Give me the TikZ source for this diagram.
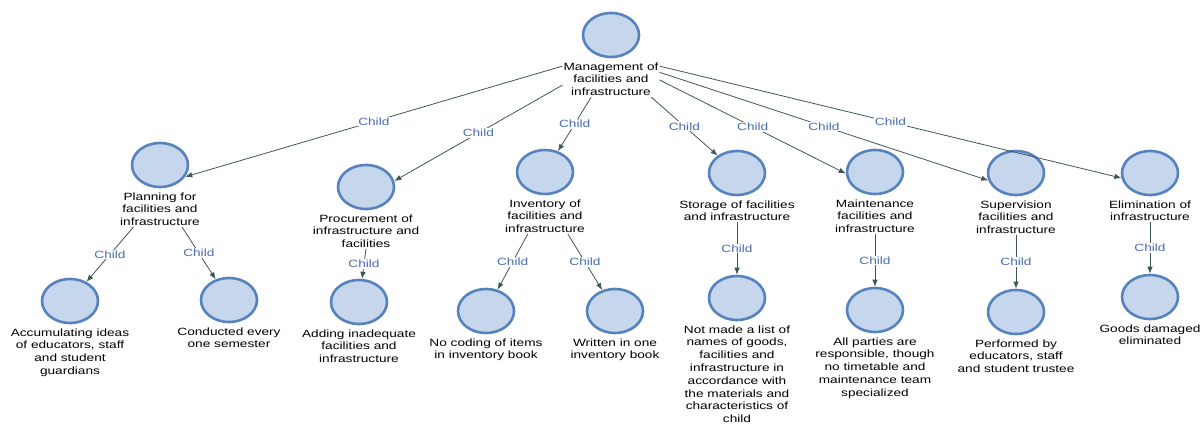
\documentclass[tikz,border=0pt]{standalone}
\usepackage{fontspec}
\setmainfont{Liberation Sans}[FakeStretch=1.3]
\usetikzlibrary{shapes.geometric,arrows.meta}
\definecolor{ellFill}{HTML}{C6D6EC}
\definecolor{ellBorder}{HTML}{5683BD}
\definecolor{edgeCol}{HTML}{3F5656}
\definecolor{childCol}{HTML}{4A6DB0}
\newcommand\lblfont{\fontsize{10.5}{12.8}\selectfont}
\tikzset{
  ell/.style={ellipse, draw=ellBorder, fill=ellFill, line width=2.6pt, minimum width=56pt, minimum height=44pt, inner sep=0pt},
  lbl/.style={align=center, font=\lblfont, inner sep=1pt, text=black, anchor=north},
  edge/.style={draw=edgeCol, line width=0.8pt, -{Latex[length=7pt,width=5.5pt]}},
  child/.style={font=\lblfont, text=childCol, fill=white, inner sep=1pt, pos=0.5}
}
\begin{document}
\begin{tikzpicture}[x=1pt,y=-1pt]
\useasboundingbox (0,0) rectangle (1202,423);
% root
\node[ell] (r) at (611,35) {};
\node[lbl] (rl) at ([yshift=-3pt]r.south) {Management of\\facilities and\\infrastructure};
% level 1
\node[ell] (a) at (160,165) {};
\node[lbl] (al) at ([yshift=-3pt]a.south) {Planning for\\facilities and\\infrastructure};
\node[ell] (b) at (366,187) {};
\node[lbl] (bl) at ([yshift=-3pt]b.south) {Procurement of\\infrastructure and\\facilities};
\node[ell] (c) at (545,172) {};
\node[lbl] (cl) at ([yshift=-3pt]c.south) {Inventory of\\facilities and\\infrastructure};
\node[ell] (d) at (737,173) {};
\node[lbl] (dl) at ([yshift=-3pt]d.south) {Storage of facilities\\and infrastructure};
\node[ell] (e) at (875,172) {};
\node[lbl] (el) at ([yshift=-3pt]e.south) {Maintenance\\facilities and\\infrastructure};
\node[ell] (f) at (1016,173) {};
\node[lbl] (fl) at ([yshift=-3pt]f.south) {Supervision\\facilities and\\infrastructure};
\node[ell] (g) at (1150,173) {};
\node[lbl] (gl) at ([yshift=-3pt]g.south) {Elimination of\\infrastructure};
% level 2
\node[ell] (a1) at (70,301) {};
\node[lbl] (a1l) at ([yshift=-3pt]a1.south) {Accumulating ideas\\of educators, staff\\and student\\guardians};
\node[ell] (a2) at (229,300) {};
\node[lbl] (a2l) at ([yshift=-3pt]a2.south) {Conducted every\\one semester};
\node[ell] (b1) at (359,302) {};
\node[lbl] (b1l) at ([yshift=-3pt]b1.south) {Adding inadequate\\facilities and\\infrastructure};
\node[ell] (c1) at (486,311) {};
\node[lbl] (c1l) at ([yshift=-3pt]c1.south) {No coding of items\\in inventory book};
\node[ell] (c2) at (615,311) {};
\node[lbl] (c2l) at ([yshift=-3pt]c2.south) {Written in one\\inventory book};
\node[ell] (d1) at (737,298) {};
\node[lbl] (d1l) at ([yshift=-3pt]d1.south) {Not made a list of\\names of goods,\\facilities and\\infrastructure in\\accordance with\\the materials and\\characteristics of\\child};
\node[ell] (e1) at (875,310) {};
\node[lbl] (e1l) at ([yshift=-3pt]e1.south) {All parties are\\responsible, though\\no timetable and\\maintenance team\\specialized};
\node[ell] (f1) at (1016,312) {};
\node[lbl] (f1l) at ([yshift=-3pt]f1.south) {Performed by\\educators, staff\\and student trustee};
\node[ell] (g1) at (1150,297) {};
\node[lbl] (g1l) at ([yshift=-3pt]g1.south) {Goods damaged\\eliminated};
% edges from root
\draw[edge] (rl.165) -- node[child]{Child} (a.335);
\draw[edge] (rl.187) -- node[child]{Child} (b.12);
\draw[edge] (rl.222) -- node[child]{Child} (c.58);
\draw[edge] (rl.336) -- node[child]{Child} (d.138);
\draw[edge] (rl.359) -- node[child]{Child} (e.183);
\draw[edge] (rl.8) -- node[child]{Child} (f.195);
\draw[edge] (rl.15) -- node[child]{Child} (g.190);
% edges level 2
\draw[edge] (al.214) -- node[child]{Child} (a1);
\draw[edge] (al.321) -- node[child]{Child} (a2);
\draw[edge] (bl.south) -- node[child]{Child} (b1);
\draw[edge] (cl.226) -- node[child]{Child} (c1);
\draw[edge] (cl.322) -- node[child]{Child} (c2);
\draw[edge] (dl.south) -- node[child]{Child} (d1);
\draw[edge] (el.south) -- node[child]{Child} (e1);
\draw[edge] (fl.south) -- node[child]{Child} (f1);
\draw[edge] (gl.south) -- node[child]{Child} (g1);
\end{tikzpicture}
\end{document}
